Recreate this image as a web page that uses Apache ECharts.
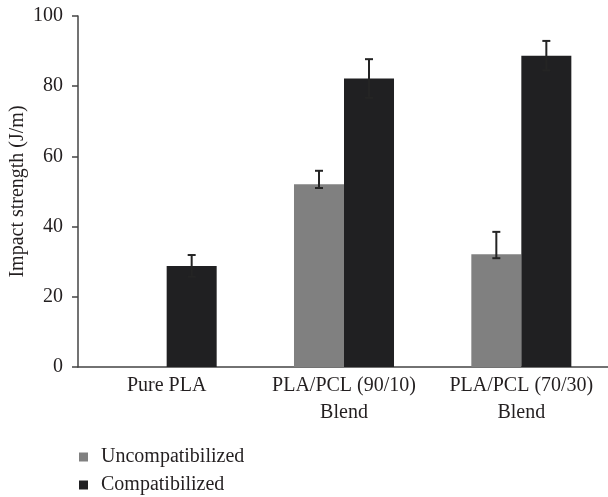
<!DOCTYPE html>
<html>
<head>
<meta charset="utf-8">
<script src="https://cdn.jsdelivr.net/npm/echarts@6/dist/echarts.min.js"></script>
<style>html,body{margin:0;padding:0;background:#fff}#c{width:608px;height:497px}</style>
</head>
<body>
<div id="c"></div>
<script>
var categories = ['Pure PLA', 'PLA/PCL (90/10)\nBlend', 'PLA/PCL (70/30)\nBlend'];
var uncompValues = [null, 52.1, 32.1];
var compValues = [28.8, 82.2, 88.7];
var uncompErrHigh = [null, 55.9, 38.5];
var uncompErrLow = [null, 51.0, 31.0];
var compErrHigh = [31.9, 87.7, 92.9];
var compErrLow = [25.7, 76.7, 84.5];
var yTicks = [0, 20, 40, 60, 80, 100];

var FONT = '"Liberation Serif", "DejaVu Serif", serif';
var FS = 20;
var TXT = '#231f20';
var GAP = 0.436;

function errData(high, low) {
  var d = [];
  for (var i = 0; i < categories.length; i++) {
    if (high[i] != null) d.push([i, low[i], high[i]]);
  }
  return d;
}
function errSeries(name, data, side) {
  return {
    type: 'custom',
    name: name + ' err',
    z: 5,
    silent: true,
    data: data,
    encode: { x: 0, y: [1, 2] },
    renderItem: function (params, api) {
      var idx = api.value(0);
      var band = api.size([1, 0])[0];
      var bw = band * (1 - GAP) / 2;
      var lo = api.coord([idx, api.value(1)]);
      var hi = api.coord([idx, api.value(2)]);
      var x = lo[0] + side * bw / 2;
      var cap = 4;
      var st = { stroke: '#242424', lineWidth: 2 };
      return {
        type: 'group',
        children: [
          { type: 'line', shape: { x1: x, y1: lo[1], x2: x, y2: hi[1] }, style: st },
          { type: 'line', shape: { x1: x - cap, y1: hi[1], x2: x + cap, y2: hi[1] }, style: st },
          { type: 'line', shape: { x1: x - cap, y1: lo[1], x2: x + cap, y2: lo[1] }, style: st }
        ]
      };
    }
  };
}

function legendFor(name, top) {
  return {
    left: 74,
    top: top,
    itemWidth: 9,
    itemHeight: 9,
    icon: 'rect',
    data: [name],
    textStyle: { fontFamily: FONT, fontSize: FS, color: TXT, padding: [0, 0, 0, 8] }
  };
}

var chart = echarts.init(document.getElementById('c'), null, { renderer: 'canvas' });
chart.setOption({
  animation: false,
  textStyle: { fontFamily: FONT },
  grid: { left: 78, top: 16, bottom: 130, width: 532, containLabel: false, outerBoundsMode: 'none' },
  legend: [legendFor('Uncompatibilized', 442), legendFor('Compatibilized', 470)],
  xAxis: {
    type: 'category',
    data: categories,
    axisLine: { lineStyle: { color: '#444', width: 1.5 } },
    axisTick: { show: false },
    axisLabel: { fontFamily: FONT, fontSize: FS, color: TXT, lineHeight: 27, margin: 5, interval: 0 }
  },
  yAxis: {
    type: 'value',
    min: 0,
    max: 100,
    interval: 20,
    name: 'Impact strength (J/m)',
    nameLocation: 'middle',
    nameGap: 50,
    nameMoveOverlap: false,
    nameTextStyle: { fontFamily: FONT, fontSize: FS, color: TXT },
    axisLine: { show: true, lineStyle: { color: '#444', width: 1.5 } },
    axisTick: { show: true, inside: false, length: 6, lineStyle: { color: '#444', width: 1.5 } },
    splitLine: { show: false },
    axisLabel: {
      fontFamily: FONT, fontSize: FS, color: TXT, margin: 15,
      formatter: function (v) { return yTicks.indexOf(v) >= 0 ? String(v) : ''; }
    }
  },
  series: [
    {
      name: 'Uncompatibilized', type: 'bar', data: uncompValues,
      barGap: '0%', barCategoryGap: (GAP * 100) + '%',
      itemStyle: { color: '#808080' }
    },
    {
      name: 'Compatibilized', type: 'bar', data: compValues,
      barGap: '0%', barCategoryGap: (GAP * 100) + '%',
      itemStyle: { color: '#202022' }
    },
    errSeries('Uncompatibilized', errData(uncompErrHigh, uncompErrLow), -1),
    errSeries('Compatibilized', errData(compErrHigh, compErrLow), 1)
  ]
});
</script>
</body>
</html>
